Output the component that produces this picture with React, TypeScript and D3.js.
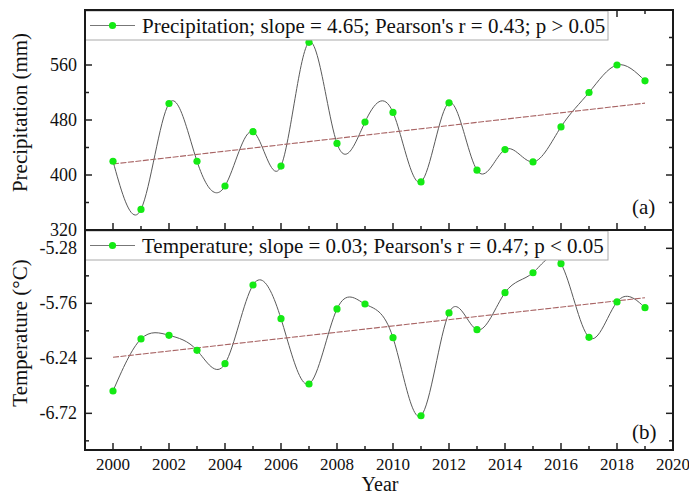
import React from "react";
import * as d3 from "d3";

const years = [2000, 2001, 2002, 2003, 2004, 2005, 2006, 2007, 2008, 2009, 2010, 2011, 2012, 2013, 2014, 2015, 2016, 2017, 2018, 2019];
const precipitation = [420, 350, 504, 420, 384, 463, 413, 593, 446, 477, 491, 390, 505, 407, 437, 419, 470, 520, 560, 537];
const temperature = [-6.525, -6.071, -6.039, -6.17, -6.287, -5.6, -5.894, -6.464, -5.809, -5.766, -6.06, -6.741, -5.844, -5.99, -5.667, -5.493, -5.414, -6.057, -5.748, -5.798];
const precipTrend = [416, 504.5];
const tempTrend = [-6.231, -5.711];
const xTickLabels = [2000, 2002, 2004, 2006, 2008, 2010, 2012, 2014, 2016, 2018, 2020];
const precipTickLabels = [320, 400, 480, 560];
const precipMinorTicks = [360, 440, 520, 600];
const tempTickLabels = [-5.28, -5.76, -6.24, -6.72];
const tempMinorTicks = [-5.52, -6.0, -6.48, -6.96];
const precipLegend = "Precipitation; slope = 4.65; Pearson's r = 0.43; p > 0.05";
const tempLegend = "Temperature; slope = 0.03; Pearson's r = 0.47; p < 0.05";

const FONT = "'Liberation Serif', 'Times New Roman', serif";
const L = 85, R = 673;
const TOP1 = 10, BOT1 = 230, TOP2 = 230, BOT2 = 450;
const MAJ = 7, MIN = 4;
const GREEN = "#14ea14";

const x = d3.scaleLinear().domain([1999, 2020]).range([L, R]);
const yP = d3.scaleLinear().domain([320, 640]).range([BOT1, TOP1]);
const yT = d3.scaleLinear().domain([-7.04, -5.12]).range([BOT2, TOP2]);
const allYears = d3.range(2000, 2021);

function Panel({ y, data, trend, majors, minors, top, bottom, fmt, legend, tag, tagY, topTicks }: any) {
  const line = d3.line<number>().x((_, i) => x(years[i])).y((d) => y(d)).curve(d3.curveNatural);
  const legendMid = top + 15.5;
  return (
    <g>
      <path d={line(data) || ""} fill="none" stroke="#5a5a5a" strokeWidth={1} />
      <line x1={x(years[0])} x2={x(years[years.length - 1])} y1={y(trend[0])} y2={y(trend[1])} stroke="#a86464" strokeWidth={1.1} strokeDasharray="6,1.5" />
      {data.map((d: number, i: number) => (
        <circle key={i} cx={x(years[i])} cy={y(d)} r={3.6} fill={GREEN} />
      ))}
      {allYears.map((yr) => {
        const len = yr % 2 === 0 ? MAJ : MIN;
        return (
          <g key={yr}>
            <line x1={x(yr)} x2={x(yr)} y1={bottom} y2={bottom - len} stroke="#222" strokeWidth={1.5} />
            {topTicks && <line x1={x(yr)} x2={x(yr)} y1={top} y2={top + len} stroke="#222" strokeWidth={1.5} />}
          </g>
        );
      })}
      {majors.map((v: number) => (
        <g key={"M" + v}>
          <line x1={L} x2={L + MAJ} y1={y(v)} y2={y(v)} stroke="#222" strokeWidth={1.5} />
          <line x1={R} x2={R - MAJ} y1={y(v)} y2={y(v)} stroke="#222" strokeWidth={1.5} />
          <text x={L - 8} y={y(v) + 6} textAnchor="end" fontSize={18} fontFamily={FONT} fill="#111">{fmt(v)}</text>
        </g>
      ))}
      {minors.map((v: number) => (
        <g key={"m" + v}>
          <line x1={L} x2={L + MIN} y1={y(v)} y2={y(v)} stroke="#222" strokeWidth={1.5} />
          <line x1={R} x2={R - MIN} y1={y(v)} y2={y(v)} stroke="#222" strokeWidth={1.5} />
        </g>
      ))}
      <rect x={L} y={top + 1} width={523} height={29} fill="#fff" stroke="#aaa" strokeWidth={1} />
      <line x1={90} x2={135} y1={legendMid} y2={legendMid} stroke="#777" strokeWidth={1.2} />
      <circle cx={112.5} cy={legendMid} r={3.6} fill={GREEN} />
      <text x={142} y={top + 23} fontSize={21} fontFamily={FONT} fill="#111">{legend}</text>
      <text x={632} y={tagY} fontSize={21} fontFamily={FONT} fill="#111">{tag}</text>
      <rect x={L} y={top} width={R - L} height={bottom - top} fill="none" stroke="#1a1a1a" strokeWidth={2} />
    </g>
  );
}

export default function App() {
  return (
    <svg width={689} height={495} style={{ position: "absolute", left: 0, top: 0, background: "#fff" }}>
      <rect width={689} height={495} fill="#fff" />
      <Panel y={yP} data={precipitation} trend={precipTrend} majors={precipTickLabels} minors={precipMinorTicks}
        top={TOP1} bottom={BOT1} fmt={(v: number) => String(v)} legend={precipLegend} tag="(a)" tagY={214} topTicks={true} />
      <Panel y={yT} data={temperature} trend={tempTrend} majors={tempTickLabels} minors={tempMinorTicks}
        top={TOP2} bottom={BOT2} fmt={(v: number) => v.toFixed(2)} legend={tempLegend} tag="(b)" tagY={439} topTicks={false} />
      {xTickLabels.map((yr) => (
        <text key={yr} x={x(yr)} y={470} textAnchor="middle" fontSize={17} fontFamily={FONT} fill="#111">{yr}</text>
      ))}
      <text x={380} y={491} textAnchor="middle" fontSize={20} fontFamily={FONT} fill="#111">Year</text>
      <text transform="translate(27,112.5) rotate(-90)" textAnchor="middle" fontSize={21} fontFamily={FONT} fill="#111">Precipitation (mm)</text>
      <text transform="translate(27,333) rotate(-90)" textAnchor="middle" fontSize={21} fontFamily={FONT} fill="#111">Temperature (°C)</text>
    </svg>
  );
}
